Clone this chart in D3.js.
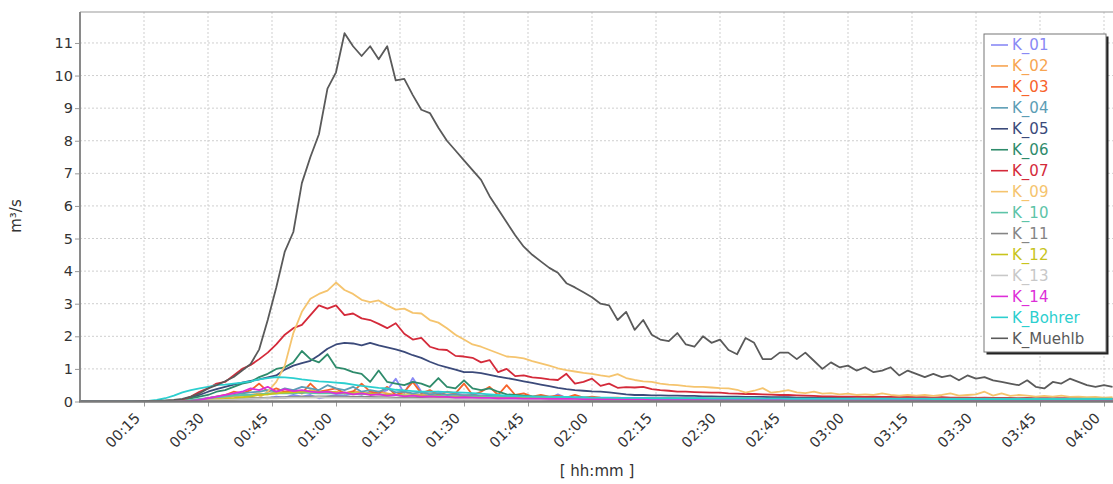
<!DOCTYPE html>
<html>
<head>
<meta charset="utf-8">
<script src="https://cdn.jsdelivr.net/npm/d3@7"></script>
<style>
  body { margin: 0; background: #fff; }
  svg { display: block; font-family: "DejaVu Sans", Verdana, sans-serif; }
</style>
</head>
<body>
<svg id="chart" width="1113" height="484"></svg>
<script>
// one value every 2 minutes, 00:00 .. 04:02
const stepMinutes = 2;

const K_01 = [
  0,0,0,0,0,0,0,0,0,0,
  0,0,0,0,0,0,0.03,0.05,0.08,0.1,
  0.08,0.12,0.1,0.15,0.12,0.2,0.15,0.2,0.1,0.15,
  0.2,0.18,0.25,0.2,0.3,0.25,0.35,0.7,0.25,0.72,
  0.3,0.25,0.3,0.2,0.25,0.2,0.22,0.18,0.2,0.15,
  0.14,0.13,0.15,0.12,0.12,0.1,0.22,0.11,0.1,0.1,
  0.09,0.1,0.09,0.09,0.08,0.09,0.08,0.08,0.08,0.07,
  0.07,0.07,0.07,0.07,0.06,0.06,0.06,0.06,0.06,0.06,
  0.06,0.06,0.05,0.05,0.05,0.05,0.05,0.05,0.05,0.05,
  0.05,0.05,0.05,0.05,0.05,0.05,0.04,0.04,0.04,0.04,
  0.04,0.04,0.04,0.04,0.04,0.04,0.04,0.04,0.04,0.04,
  0.04,0.04,0.04,0.04,0.04,0.04,0.04,0.04,0.04,0.04,
  0.04,0.04];

const K_02 = [
  0,0,0,0,0,0,0,0,0,0,
  0,0,0,0.02,0.05,0.08,0.1,0.12,0.15,0.18,
  0.2,0.25,0.22,0.3,0.28,0.32,0.25,0.35,0.3,0.28,
  0.3,0.25,0.32,0.28,0.22,0.3,0.25,0.2,0.28,0.22,
  0.2,0.25,0.18,0.22,0.2,0.18,0.2,0.15,0.18,0.15,
  0.14,0.16,0.13,0.14,0.12,0.13,0.12,0.11,0.12,0.1,
  0.1,0.1,0.09,0.1,0.09,0.09,0.08,0.09,0.08,0.08,
  0.08,0.08,0.07,0.08,0.07,0.07,0.07,0.07,0.07,0.06,
  0.06,0.06,0.06,0.06,0.06,0.06,0.06,0.06,0.06,0.06,
  0.06,0.06,0.06,0.06,0.05,0.05,0.05,0.05,0.05,0.05,
  0.05,0.05,0.05,0.05,0.05,0.05,0.05,0.05,0.05,0.05,
  0.05,0.05,0.05,0.05,0.05,0.05,0.05,0.05,0.05,0.05,
  0.05,0.05];

const K_03 = [
  0,0,0,0,0,0,0,0,0,0,
  0,0,0,0,0.05,0.1,0.15,0.2,0.3,0.25,
  0.35,0.55,0.3,0.4,0.3,0.35,0.25,0.55,0.3,0.35,
  0.4,0.25,0.3,0.55,0.3,0.25,0.45,0.2,0.3,0.6,
  0.25,0.35,0.2,0.3,0.25,0.55,0.2,0.3,0.45,0.2,
  0.5,0.2,0.25,0.15,0.2,0.15,0.18,0.12,0.2,0.12,
  0.15,0.12,0.11,0.12,0.1,0.11,0.1,0.1,0.09,0.1,
  0.09,0.09,0.08,0.09,0.08,0.08,0.08,0.08,0.07,0.08,
  0.07,0.07,0.07,0.07,0.07,0.06,0.07,0.06,0.06,0.06,
  0.06,0.06,0.06,0.06,0.06,0.06,0.06,0.05,0.06,0.05,
  0.05,0.05,0.05,0.05,0.05,0.05,0.05,0.05,0.05,0.05,
  0.05,0.05,0.05,0.05,0.05,0.05,0.05,0.05,0.05,0.05,
  0.05,0.05];

const K_04 = [
  0,0,0,0,0,0,0,0,0,0,
  0,0,0,0.03,0.06,0.1,0.15,0.18,0.2,0.25,
  0.28,0.3,0.35,0.3,0.4,0.35,0.45,0.4,0.35,0.5,
  0.4,0.35,0.45,0.3,0.35,0.3,0.4,0.28,0.3,0.25,
  0.28,0.22,0.25,0.2,0.22,0.18,0.2,0.16,0.18,0.15,
  0.14,0.13,0.13,0.12,0.12,0.11,0.11,0.1,0.1,0.1,
  0.09,0.09,0.09,0.08,0.08,0.08,0.08,0.08,0.07,0.07,
  0.07,0.07,0.07,0.07,0.07,0.07,0.07,0.07,0.07,0.07,
  0.06,0.06,0.06,0.06,0.06,0.06,0.06,0.06,0.06,0.06,
  0.06,0.06,0.06,0.06,0.06,0.06,0.06,0.06,0.06,0.06,
  0.05,0.05,0.05,0.05,0.05,0.05,0.05,0.05,0.05,0.05,
  0.05,0.05,0.05,0.05,0.05,0.05,0.05,0.05,0.05,0.05,
  0.05,0.05];

const K_05 = [
  0,0,0,0,0,0,0,0,0,0,
  0,0.02,0.05,0.12,0.2,0.3,0.38,0.45,0.52,0.58,
  0.63,0.68,0.74,0.8,0.98,1.1,1.18,1.25,1.42,1.62,
  1.75,1.8,1.78,1.72,1.8,1.72,1.66,1.6,1.52,1.42,
  1.34,1.22,1.12,1.05,0.98,0.9,0.9,0.87,0.82,0.76,
  0.72,0.67,0.62,0.57,0.52,0.47,0.42,0.38,0.35,0.33,
  0.31,0.3,0.28,0.25,0.22,0.2,0.2,0.19,0.19,0.18,
  0.18,0.17,0.17,0.16,0.16,0.15,0.15,0.15,0.14,0.14,
  0.14,0.13,0.13,0.13,0.12,0.12,0.12,0.11,0.11,0.11,
  0.11,0.1,0.1,0.1,0.1,0.1,0.09,0.09,0.09,0.09,
  0.09,0.09,0.08,0.08,0.08,0.08,0.08,0.08,0.08,0.08,
  0.07,0.07,0.07,0.07,0.07,0.07,0.07,0.07,0.07,0.07,
  0.07,0.07];

const K_06 = [
  0,0,0,0,0,0,0,0,0,0,
  0,0.02,0.05,0.1,0.15,0.2,0.3,0.35,0.45,0.55,
  0.6,0.75,0.85,1.0,1.05,1.2,1.55,1.3,1.2,1.45,
  1.05,1.0,0.9,0.85,0.6,0.95,0.6,0.55,0.5,0.6,
  0.55,0.45,0.72,0.45,0.4,0.65,0.4,0.35,0.4,0.3,
  0.22,0.2,0.18,0.16,0.15,0.14,0.13,0.13,0.12,0.12,
  0.11,0.11,0.1,0.1,0.1,0.1,0.09,0.09,0.09,0.09,
  0.08,0.08,0.08,0.08,0.08,0.07,0.07,0.07,0.07,0.07,
  0.07,0.07,0.06,0.06,0.06,0.06,0.06,0.06,0.06,0.06,
  0.06,0.06,0.05,0.05,0.05,0.05,0.05,0.05,0.05,0.05,
  0.05,0.05,0.05,0.05,0.05,0.05,0.05,0.05,0.05,0.05,
  0.05,0.05,0.05,0.05,0.05,0.05,0.05,0.05,0.05,0.05,
  0.05,0.05];

const K_07 = [
  0,0,0,0,0,0,0,0,0,0,
  0,0,0.05,0.15,0.3,0.4,0.55,0.6,0.8,1.0,
  1.12,1.3,1.5,1.75,2.05,2.25,2.35,2.65,2.95,2.85,
  2.95,2.65,2.7,2.55,2.5,2.38,2.25,2.4,2.08,1.9,
  1.95,1.68,1.6,1.58,1.4,1.38,1.34,1.2,1.27,0.9,
  1.0,0.78,0.8,0.74,0.72,0.68,0.66,0.85,0.55,0.6,
  0.7,0.48,0.55,0.42,0.44,0.43,0.45,0.38,0.35,0.33,
  0.3,0.3,0.29,0.28,0.27,0.27,0.25,0.24,0.23,0.23,
  0.22,0.21,0.2,0.2,0.19,0.18,0.17,0.16,0.16,0.15,
  0.15,0.15,0.14,0.15,0.14,0.14,0.13,0.14,0.13,0.13,
  0.12,0.13,0.12,0.12,0.12,0.11,0.12,0.11,0.11,0.11,
  0.1,0.11,0.1,0.1,0.1,0.1,0.1,0.1,0.09,0.1,
  0.09,0.09];

const K_09 = [
  0,0,0,0,0,0,0,0,0,0,
  0,0,0,0,0,0.02,0.03,0.05,0.06,0.08,
  0.1,0.12,0.3,0.6,1.1,2.1,2.75,3.15,3.3,3.4,
  3.65,3.42,3.3,3.12,3.05,3.1,2.95,2.82,2.85,2.72,
  2.7,2.5,2.42,2.25,2.05,1.9,1.75,1.68,1.58,1.48,
  1.38,1.36,1.32,1.24,1.17,1.1,1.02,0.96,0.92,0.88,
  0.85,0.8,0.76,0.84,0.72,0.66,0.62,0.6,0.55,0.52,
  0.5,0.47,0.45,0.45,0.43,0.41,0.4,0.36,0.27,0.33,
  0.41,0.27,0.3,0.35,0.28,0.26,0.3,0.24,0.26,0.22,
  0.24,0.2,0.22,0.2,0.25,0.2,0.18,0.2,0.18,0.2,
  0.17,0.2,0.25,0.18,0.2,0.22,0.3,0.18,0.25,0.17,
  0.2,0.18,0.15,0.17,0.15,0.18,0.14,0.15,0.13,0.14,
  0.12,0.13];

const K_10 = [
  0,0,0,0,0,0,0,0,0,0,
  0,0,0.02,0.05,0.08,0.1,0.13,0.15,0.18,0.2,
  0.2,0.22,0.25,0.24,0.26,0.25,0.27,0.26,0.25,0.26,
  0.25,0.24,0.25,0.23,0.22,0.22,0.2,0.2,0.19,0.18,
  0.18,0.17,0.17,0.16,0.16,0.15,0.15,0.14,0.14,0.14,
  0.13,0.13,0.13,0.12,0.12,0.12,0.12,0.11,0.11,0.11,
  0.11,0.1,0.1,0.1,0.1,0.1,0.1,0.1,0.1,0.1,
  0.1,0.1,0.1,0.1,0.1,0.1,0.1,0.1,0.1,0.1,
  0.09,0.09,0.09,0.09,0.09,0.09,0.09,0.09,0.09,0.09,
  0.09,0.09,0.09,0.09,0.09,0.09,0.09,0.09,0.09,0.09,
  0.09,0.09,0.09,0.09,0.09,0.09,0.09,0.09,0.09,0.09,
  0.09,0.09,0.09,0.09,0.09,0.09,0.09,0.09,0.09,0.09,
  0.09,0.09];

const K_11 = [
  0,0,0,0,0,0,0,0,0,0,
  0,0,0,0,0.02,0.03,0.05,0.06,0.08,0.08,
  0.1,0.1,0.12,0.12,0.13,0.14,0.15,0.15,0.16,0.16,
  0.16,0.15,0.15,0.14,0.14,0.13,0.13,0.12,0.12,0.11,
  0.11,0.1,0.1,0.1,0.09,0.09,0.09,0.08,0.08,0.08,
  0.08,0.07,0.07,0.07,0.07,0.06,0.06,0.06,0.06,0.06,
  0.05,0.05,0.05,0.05,0.05,0.05,0.05,0.05,0.05,0.05,
  0.05,0.05,0.05,0.05,0.05,0.05,0.05,0.05,0.05,0.05,
  0.04,0.04,0.04,0.04,0.04,0.04,0.04,0.04,0.04,0.04,
  0.04,0.04,0.04,0.04,0.04,0.04,0.04,0.04,0.04,0.04,
  0.04,0.04,0.04,0.04,0.04,0.04,0.04,0.04,0.04,0.04,
  0.04,0.04,0.04,0.04,0.04,0.04,0.04,0.04,0.04,0.04,
  0.04,0.04];

const K_12 = [
  0,0,0,0,0,0,0,0,0,0,
  0,0,0,0,0.02,0.04,0.06,0.08,0.1,0.13,
  0.16,0.2,0.22,0.25,0.27,0.28,0.3,0.3,0.28,0.3,
  0.28,0.27,0.26,0.25,0.24,0.22,0.21,0.2,0.19,0.18,
  0.17,0.16,0.15,0.14,0.13,0.13,0.12,0.12,0.11,0.11,
  0.1,0.1,0.1,0.09,0.09,0.09,0.08,0.08,0.08,0.08,
  0.07,0.07,0.07,0.07,0.07,0.07,0.07,0.07,0.07,0.07,
  0.07,0.07,0.06,0.06,0.06,0.06,0.06,0.06,0.06,0.06,
  0.06,0.06,0.06,0.06,0.06,0.06,0.06,0.06,0.06,0.06,
  0.05,0.05,0.05,0.05,0.05,0.05,0.05,0.05,0.05,0.05,
  0.05,0.05,0.05,0.05,0.05,0.05,0.05,0.05,0.05,0.05,
  0.05,0.05,0.05,0.05,0.05,0.05,0.05,0.05,0.05,0.05,
  0.05,0.05];

const K_13 = [
  0,0,0,0,0,0,0,0,0,0,
  0,0,0,0,0.02,0.03,0.04,0.05,0.06,0.07,
  0.08,0.09,0.1,0.1,0.11,0.12,0.12,0.12,0.13,0.12,
  0.12,0.12,0.11,0.11,0.1,0.1,0.1,0.09,0.09,0.09,
  0.08,0.08,0.08,0.08,0.08,0.08,0.08,0.08,0.08,0.08,
  0.07,0.07,0.07,0.07,0.07,0.07,0.07,0.07,0.07,0.07,
  0.06,0.06,0.06,0.06,0.06,0.06,0.06,0.06,0.06,0.06,
  0.06,0.06,0.06,0.06,0.06,0.06,0.06,0.06,0.06,0.06,
  0.05,0.05,0.05,0.05,0.05,0.05,0.05,0.05,0.05,0.05,
  0.05,0.05,0.05,0.05,0.05,0.05,0.05,0.05,0.05,0.05,
  0.05,0.05,0.05,0.05,0.05,0.05,0.05,0.05,0.05,0.05,
  0.05,0.05,0.05,0.05,0.05,0.05,0.05,0.05,0.05,0.05,
  0.05,0.05];

const K_14 = [
  0,0,0,0,0,0,0,0,0,0,
  0,0,0,0.02,0.05,0.1,0.15,0.2,0.25,0.3,
  0.4,0.35,0.45,0.3,0.38,0.32,0.35,0.3,0.28,0.3,
  0.25,0.28,0.22,0.25,0.2,0.22,0.18,0.2,0.16,0.18,
  0.15,0.16,0.14,0.14,0.12,0.13,0.12,0.11,0.11,0.1,
  0.1,0.1,0.09,0.09,0.09,0.08,0.08,0.08,0.08,0.07,
  0.07,0.07,0.07,0.07,0.07,0.07,0.07,0.06,0.06,0.06,
  0.06,0.06,0.06,0.06,0.06,0.06,0.06,0.06,0.06,0.06,
  0.05,0.05,0.05,0.05,0.05,0.05,0.05,0.05,0.05,0.05,
  0.05,0.05,0.05,0.05,0.05,0.05,0.05,0.05,0.05,0.05,
  0.05,0.05,0.05,0.05,0.05,0.05,0.05,0.05,0.05,0.05,
  0.05,0.05,0.05,0.05,0.05,0.05,0.05,0.05,0.05,0.05,
  0.05,0.05];

const K_Bohrer = [
  0,0,0,0,0,0,0,0,0.02,0.05,
  0.1,0.18,0.28,0.35,0.4,0.45,0.5,0.52,0.55,0.58,
  0.62,0.68,0.72,0.75,0.74,0.72,0.68,0.65,0.62,0.6,
  0.58,0.56,0.52,0.48,0.45,0.42,0.4,0.36,0.34,0.32,
  0.3,0.3,0.3,0.29,0.28,0.27,0.26,0.24,0.22,0.2,
  0.18,0.17,0.16,0.16,0.15,0.15,0.14,0.14,0.13,0.13,
  0.12,0.12,0.12,0.11,0.11,0.11,0.11,0.1,0.1,0.1,
  0.1,0.1,0.1,0.1,0.09,0.09,0.09,0.09,0.09,0.09,
  0.09,0.09,0.09,0.08,0.08,0.08,0.08,0.08,0.08,0.08,
  0.08,0.08,0.08,0.08,0.08,0.08,0.08,0.08,0.08,0.08,
  0.07,0.07,0.07,0.07,0.07,0.07,0.07,0.07,0.07,0.07,
  0.07,0.07,0.07,0.07,0.07,0.07,0.07,0.07,0.07,0.07,
  0.07,0.07];

const K_Muehlb = [
  0,0,0,0,0,0,0,0.01,0.02,0.02,
  0.03,0.05,0.08,0.15,0.25,0.4,0.5,0.62,0.75,0.95,
  1.15,1.6,2.5,3.5,4.6,5.2,6.7,7.5,8.2,9.6,
  10.1,11.3,10.9,10.6,10.9,10.5,10.9,9.85,9.9,9.4,
  8.95,8.85,8.4,8.0,7.7,7.4,7.1,6.8,6.3,5.9,
  5.5,5.1,4.75,4.5,4.3,4.1,3.95,3.63,3.5,3.35,
  3.2,3.0,2.95,2.5,2.75,2.2,2.5,2.05,1.9,1.85,
  2.1,1.75,1.68,2.0,1.8,1.9,1.58,1.45,1.95,1.8,
  1.3,1.3,1.5,1.5,1.3,1.5,1.25,1.0,1.2,1.05,
  1.1,0.95,1.05,0.9,0.95,1.05,0.8,0.95,0.85,0.75,
  0.85,0.75,0.8,0.65,0.8,0.7,0.75,0.65,0.6,0.55,
  0.5,0.65,0.45,0.4,0.6,0.55,0.7,0.6,0.5,0.45,
  0.5,0.45];

const seriesNames = ["K_01", "K_02", "K_03", "K_04", "K_05", "K_06", "K_07", "K_09",
  "K_10", "K_11", "K_12", "K_13", "K_14", "K_Bohrer", "K_Muehlb"];
const seriesValues = [K_01, K_02, K_03, K_04, K_05, K_06, K_07, K_09,
  K_10, K_11, K_12, K_13, K_14, K_Bohrer, K_Muehlb];
const seriesColors = ["#8a8af5", "#f7a552", "#f7632a", "#5c9db5", "#3b4a7a", "#2e8b6b",
  "#d42a3a", "#f5c46e", "#5dc4a8", "#858585", "#c8c41c", "#c8c8c8", "#dd2ed8",
  "#2ccfcf", "#5a5a5a"];

const xTickMinutes = [15, 30, 45, 60, 75, 90, 105, 120, 135, 150, 165, 180, 195, 210, 225, 240];
const yTickValues = [0, 1, 2, 3, 4, 5, 6, 7, 8, 9, 10, 11];

// Set up sizing constants
const plotLeft = 80;
const plotTop = 12;
const plotBottom = 401.5;
const plotRight = 1113;

const xScale = d3.scaleLinear()
  .domain([0, 240])
  .range([plotLeft, 1104]);

const yScale = d3.scaleLinear()
  .domain([0, 11.95])
  .range([plotBottom, plotTop]);

const svg = d3.select("svg#chart");

svg.append("defs").append("clipPath")
  .attr("id", "plotClip")
  .append("rect")
  .attr("x", plotLeft)
  .attr("y", plotTop - 2)
  .attr("width", plotRight - plotLeft)
  .attr("height", plotBottom - plotTop + 2);

// grid
const grid = svg.append("g").attr("class", "grid");
grid.selectAll("line.vgrid")
  .data(xTickMinutes)
  .enter()
  .append("line")
  .attr("class", "vgrid")
  .attr("x1", d => xScale(d))
  .attr("x2", d => xScale(d))
  .attr("y1", plotTop)
  .attr("y2", plotBottom)
  .attr("stroke", "#cfcfcf")
  .attr("stroke-dasharray", "2,2");

grid.selectAll("line.hgrid")
  .data(yTickValues.filter(d => d > 0))
  .enter()
  .append("line")
  .attr("class", "hgrid")
  .attr("x1", plotLeft)
  .attr("x2", plotRight)
  .attr("y1", d => yScale(d))
  .attr("y2", d => yScale(d))
  .attr("stroke", "#cfcfcf")
  .attr("stroke-dasharray", "2,2");

// frame
svg.append("line")
  .attr("x1", plotLeft).attr("x2", plotRight)
  .attr("y1", plotTop).attr("y2", plotTop)
  .attr("stroke", "#9a9a9a").attr("stroke-width", 1.2);

// lines
const line = d3.line()
  .x((d, i) => xScale(i * stepMinutes))
  .y(d => yScale(d));

svg.append("g")
  .attr("clip-path", "url(#plotClip)")
  .selectAll("path.series")
  .data(seriesValues)
  .enter()
  .append("path")
  .attr("class", "series")
  .attr("d", d => line(d))
  .attr("fill", "none")
  .attr("stroke", (d, i) => seriesColors[i])
  .attr("stroke-width", 1.8)
  .attr("stroke-linejoin", "round");

// axes
const pad2 = n => (n < 10 ? "0" : "") + n;
const xAxis = d3.axisBottom(xScale)
  .tickValues(xTickMinutes)
  .tickSize(5)
  .tickFormat(m => pad2(Math.floor(m / 60)) + ":" + pad2(m % 60));

const yAxis = d3.axisLeft(yScale)
  .tickValues(yTickValues)
  .tickSize(5)
  .tickPadding(2);

const xAxisG = svg.append("g")
  .attr("transform", "translate(0," + plotBottom + ")")
  .call(xAxis);
xAxisG.select(".domain").remove();
xAxisG.selectAll(".tick line").attr("stroke", "#999");
xAxisG.selectAll("text")
  .attr("x", 0)
  .attr("y", 0)
  .attr("dy", "0.35em")
  .attr("text-anchor", "end")
  .attr("transform", "translate(-7,14) rotate(-45)")
  .attr("fill", "#333")
  .style("font-size", "14.5px")
  .style("font-family", "DejaVu Sans, sans-serif");

const yAxisG = svg.append("g")
  .attr("transform", "translate(" + plotLeft + ",0)")
  .call(yAxis);
yAxisG.select(".domain").remove();
yAxisG.selectAll(".tick line").attr("stroke", "#999");
yAxisG.selectAll("text")
  .attr("fill", "#333")
  .style("font-size", "14.5px")
  .style("font-family", "DejaVu Sans, sans-serif");

svg.append("line")
  .attr("x1", plotLeft).attr("x2", plotLeft)
  .attr("y1", plotTop).attr("y2", plotBottom)
  .attr("stroke", "#8a8a8a").attr("stroke-width", 2);

svg.append("line")
  .attr("x1", plotLeft - 1).attr("x2", plotRight)
  .attr("y1", plotBottom).attr("y2", plotBottom)
  .attr("stroke", "#7a7a7a").attr("stroke-width", 2.6);

// axis titles
svg.append("text")
  .attr("transform", "translate(21,216) rotate(-90)")
  .attr("text-anchor", "middle")
  .attr("fill", "#333")
  .style("font-size", "15px")
  .text("m³/s");

svg.append("text")
  .attr("x", 597)
  .attr("y", 476)
  .attr("text-anchor", "middle")
  .attr("fill", "#333")
  .style("font-size", "15px")
  .text("[ hh:mm ]");

// legend
const legendX = 984, legendY = 34, legendW = 122, legendH = 318;
const legend = svg.append("g");
legend.append("rect")
  .attr("x", legendX + 2.5).attr("y", legendY + 2.5)
  .attr("width", legendW).attr("height", legendH)
  .attr("fill", "#222");
legend.append("rect")
  .attr("x", legendX).attr("y", legendY)
  .attr("width", legendW).attr("height", legendH)
  .attr("fill", "#fff")
  .attr("stroke", "#777")
  .attr("stroke-width", 1);

const entries = legend.selectAll("g.entry")
  .data(seriesNames)
  .enter()
  .append("g")
  .attr("class", "entry")
  .attr("transform", (d, i) => "translate(" + legendX + "," + (legendY + 11 + i * 20.95) + ")");

entries.append("line")
  .attr("x1", 7).attr("x2", 24)
  .attr("y1", 0).attr("y2", 0)
  .attr("stroke", (d, i) => seriesColors[i])
  .attr("stroke-width", 1.6);

entries.append("text")
  .attr("x", 28)
  .attr("y", 0)
  .attr("dy", "0.36em")
  .attr("fill", (d, i) => seriesColors[i])
  .style("font-size", "15px")
  .text(d => d);
</script>
</body>
</html>
